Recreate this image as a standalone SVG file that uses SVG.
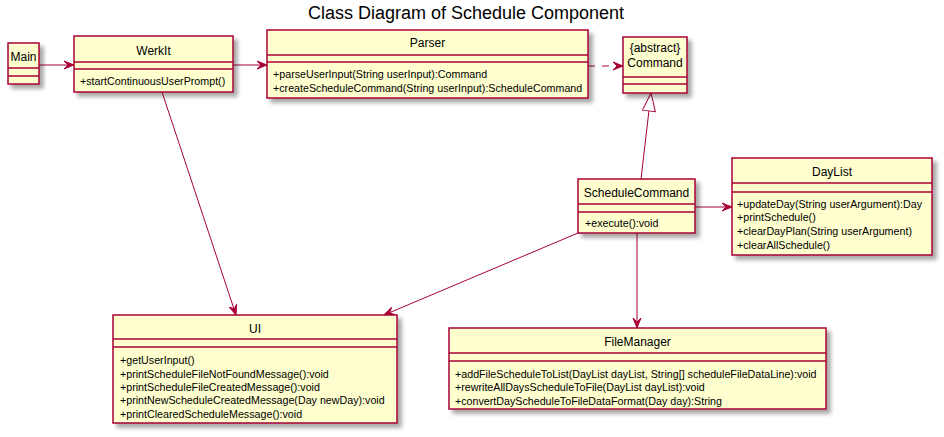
<svg xmlns="http://www.w3.org/2000/svg" width="944" height="437" viewBox="0 0 944 437">
<style>
.box{fill:#FEFECE;stroke:#A80036;stroke-width:1.5}
.sep{stroke:#A80036;stroke-width:1.5}
.name{font-family:"Liberation Sans",Arial,sans-serif;font-size:12px;fill:#000;text-anchor:middle}
.m{font-family:"Liberation Sans",Arial,sans-serif;font-size:10.7px;fill:#000}
.ln{stroke:#A80036;stroke-width:1;fill:none}
.title{font-family:"Liberation Sans",Arial,sans-serif;font-size:18px;fill:#000;text-anchor:middle}
</style>
<defs>
<filter id="sh" x="-10%" y="-10%" width="130%" height="140%">
<feDropShadow dx="4" dy="4" stdDeviation="2" flood-color="#000" flood-opacity="0.35"/>
</filter>
<marker id="arr" viewBox="0 0 10 10" refX="10" refY="5" markerWidth="10" markerHeight="10" markerUnits="userSpaceOnUse" orient="auto">
<path d="M0,1 L10,5 L0,9 L4,5 Z" fill="#A80036" stroke="#A80036" stroke-width="1"/>
</marker>
<marker id="tri" viewBox="0 0 20 14" refX="19" refY="7" markerWidth="20" markerHeight="14" markerUnits="userSpaceOnUse" orient="auto">
<path d="M1,0.5 L19,7 L1,13.5 Z" fill="#FFFFFF" stroke="#A80036" stroke-width="1"/>
</marker>
</defs>
<rect width="944" height="437" fill="#FFFFFF"/>
<text class="title" x="466" y="19">Class Diagram of Schedule Component</text>

<g id="connectors">
<line class="ln" x1="39" y1="65" x2="74" y2="65" marker-end="url(#arr)"/>
<line class="ln" x1="233" y1="65" x2="267" y2="65" marker-end="url(#arr)"/>
<line class="ln" x1="588" y1="66" x2="623" y2="66" stroke-dasharray="7,7" marker-end="url(#arr)"/>
<line class="ln" x1="641" y1="179" x2="651" y2="93" marker-end="url(#tri)"/>
<line class="ln" x1="695" y1="207" x2="732" y2="207" marker-end="url(#arr)"/>
<line class="ln" x1="162" y1="92" x2="236" y2="315" marker-end="url(#arr)"/>
<line class="ln" x1="578" y1="233" x2="384" y2="315" marker-end="url(#arr)"/>
<line class="ln" x1="637" y1="233" x2="637" y2="328" marker-end="url(#arr)"/>
</g>

<g id="Main">
<rect class="box" x="8" y="43" width="31" height="41" filter="url(#sh)"/>
<text class="name" x="23.5" y="61">Main</text>
<line class="sep" x1="8" y1="68" x2="39" y2="68"/>
<line class="sep" x1="8" y1="76" x2="39" y2="76"/>
</g>

<g id="WerkIt">
<rect class="box" x="74" y="36" width="159" height="56" filter="url(#sh)"/>
<text class="name" x="153.5" y="55">WerkIt</text>
<line class="sep" x1="74" y1="62" x2="233" y2="62"/>
<line class="sep" x1="74" y1="69" x2="233" y2="69"/>
<text class="m" x="80" y="85">+startContinuousUserPrompt()</text>
</g>

<g id="Parser">
<rect class="box" x="267" y="30" width="321" height="68" filter="url(#sh)"/>
<text class="name" x="427.5" y="47">Parser</text>
<line class="sep" x1="267" y1="55" x2="588" y2="55"/>
<line class="sep" x1="267" y1="62" x2="588" y2="62"/>
<text class="m" x="273" y="78">+parseUserInput(String userInput):Command</text>
<text class="m" x="273" y="92">+createScheduleCommand(String userInput):ScheduleCommand</text>
</g>

<g id="Command">
<rect class="box" x="623" y="37" width="64" height="56" filter="url(#sh)"/>
<text class="name" x="655" y="52">{abstract}</text>
<text class="name" x="655" y="67">Command</text>
<line class="sep" x1="623" y1="77" x2="687" y2="77"/>
<line class="sep" x1="623" y1="84" x2="687" y2="84"/>
</g>

<g id="ScheduleCommand">
<rect class="box" x="578" y="179" width="117" height="54" filter="url(#sh)"/>
<text class="name" x="636.5" y="197">ScheduleCommand</text>
<line class="sep" x1="578" y1="204" x2="695" y2="204"/>
<line class="sep" x1="578" y1="212" x2="695" y2="212"/>
<text class="m" x="585" y="227">+execute():void</text>
</g>

<g id="DayList">
<rect class="box" x="732" y="158" width="200" height="97" filter="url(#sh)"/>
<text class="name" x="832" y="175.5">DayList</text>
<line class="sep" x1="732" y1="183" x2="932" y2="183"/>
<line class="sep" x1="732" y1="192" x2="932" y2="192"/>
<text class="m" x="737" y="207.5">+updateDay(String userArgument):Day</text>
<text class="m" x="737" y="221.3">+printSchedule()</text>
<text class="m" x="737" y="235">+clearDayPlan(String userArgument)</text>
<text class="m" x="737" y="249">+clearAllSchedule()</text>
</g>

<g id="UI">
<rect class="box" x="113" y="315" width="284" height="108" filter="url(#sh)"/>
<text class="name" x="255" y="333">UI</text>
<line class="sep" x1="113" y1="339" x2="397" y2="339"/>
<line class="sep" x1="113" y1="347" x2="397" y2="347"/>
<text class="m" x="120" y="364.3">+getUserInput()</text>
<text class="m" x="120" y="377.6">+printScheduleFileNotFoundMessage():void</text>
<text class="m" x="120" y="391">+printScheduleFileCreatedMessage():void</text>
<text class="m" x="120" y="404.3">+printNewScheduleCreatedMessage(Day newDay):void</text>
<text class="m" x="120" y="417.6">+printClearedScheduleMessage():void</text>
</g>

<g id="FileManager">
<rect class="box" x="449" y="328" width="377" height="81" filter="url(#sh)"/>
<text class="name" x="637.5" y="346">FileManager</text>
<line class="sep" x1="449" y1="353" x2="826" y2="353"/>
<line class="sep" x1="449" y1="361" x2="826" y2="361"/>
<text class="m" x="455" y="377.5">+addFileScheduleToList(DayList dayList, String[] scheduleFileDataLine):void</text>
<text class="m" x="455" y="391">+rewriteAllDaysScheduleToFile(DayList dayList):void</text>
<text class="m" x="455" y="404.5">+convertDayScheduleToFileDataFormat(Day day):String</text>
</g>
</svg>
